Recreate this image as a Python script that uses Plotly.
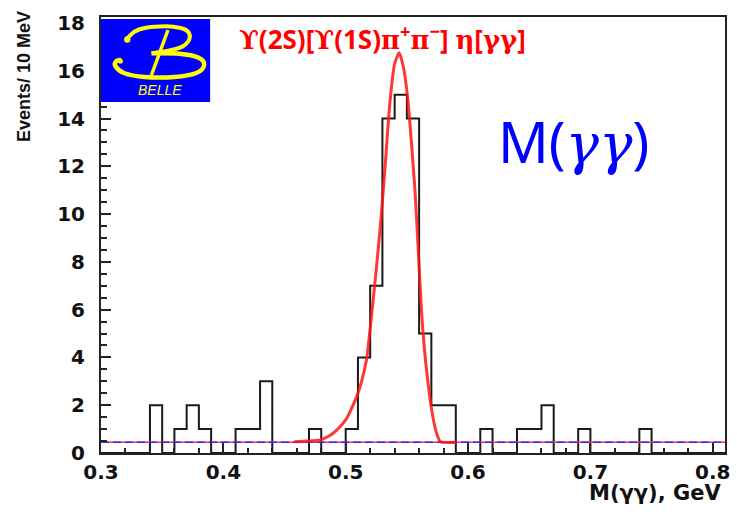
import plotly.graph_objects as go

# ---- histogram: M(gamma gamma), 10 MeV bins from 0.30 to 0.81 GeV ----
hist_start = 0.30
bin_width = 0.01
counts = [
    0, 0, 0, 0, 2, 0, 1, 2, 1, 0,      # 0.30 - 0.40
    0, 1, 1, 3, 0, 0, 0, 1, 0, 0,      # 0.40 - 0.50
    1, 4, 7, 14, 15, 14, 5, 2, 2, 0,   # 0.50 - 0.60
    0, 1, 0, 0, 1, 1, 2, 0, 0, 1,      # 0.60 - 0.70
    0, 0, 0, 0, 1, 0, 0, 0, 0, 0,      # 0.70 - 0.80
    0,                                 # 0.80 - 0.81
]

# ---- fit: signal peak on top of a flat background ----
bkg_level = 0.45
fit_x = [0.458, 0.470, 0.479, 0.486, 0.4927, 0.5008, 0.509, 0.513, 0.517,
         0.521, 0.525, 0.529, 0.5325, 0.536, 0.540, 0.5437, 0.547, 0.551,
         0.554, 0.5566, 0.559, 0.562, 0.566, 0.5713, 0.5745, 0.5775, 0.590]
fit_y = [0.47, 0.50, 0.55, 0.70, 0.96, 1.45, 2.36, 3.0, 3.9,
         5.7, 7.7, 9.9, 12.2, 14.6, 16.3, 16.75, 16.2, 14.7,
         12.8, 11.0, 8.8, 5.9, 3.5, 1.5, 0.8, 0.47, 0.45]

x_range = [0.30, 0.81]
y_range = [0.0, 18.25]
x_tick_labels = ["0.3", "0.4", "0.5", "0.6", "0.7", "0.8"]
y_tick_labels = ["0", "2", "4", "6", "8", "10", "12", "14", "16", "18"]


def greek(s):
    return f"<span style=\"font-family:'DejaVu Serif'\">{s}</span>"


title_text = (f"{greek('ϒ')}(2S)[{greek('ϒ')}(1S){greek('π')}<sup>+</sup>"
              f"{greek('π')}<sup>−</sup>] {greek('η')}[{greek('γγ')}]")
x_title = "M(γγ), GeV"
y_title = "Events/ 10 MeV"

# ---- page geometry (pixels) ----
W, H = 737, 514
PLOT_L, PLOT_R, PLOT_T, PLOT_B = 101, 730, 17, 453
PLOT_W = PLOT_R - PLOT_L
PLOT_H = PLOT_B - PLOT_T


def px_x(px):
    return (px - PLOT_L) / PLOT_W


def px_y(py):
    return (PLOT_B - py) / PLOT_H


def smooth_path(pts):
    """Catmull-Rom curve through pixel points, as an SVG path in paper units."""
    P = [(px_x(x), px_y(y)) for x, y in pts]
    d = f"M {P[0][0]:.5f},{P[0][1]:.5f}"
    for i in range(len(P) - 1):
        p0 = P[i - 1] if i > 0 else P[i]
        p1, p2 = P[i], P[i + 1]
        p3 = P[i + 2] if i + 2 < len(P) else P[i + 1]
        c1 = (p1[0] + (p2[0] - p0[0]) / 6, p1[1] + (p2[1] - p0[1]) / 6)
        c2 = (p2[0] - (p3[0] - p1[0]) / 6, p2[1] - (p3[1] - p1[1]) / 6)
        d += (f" C {c1[0]:.5f},{c1[1]:.5f} {c2[0]:.5f},{c2[1]:.5f}"
              f" {p2[0]:.5f},{p2[1]:.5f}")
    return d


# step outline of the histogram
edges = [round(hist_start + i * bin_width, 4) for i in range(len(counts) + 1)]
step_y = counts + [counts[-1]]

fig = go.Figure()

fig.add_trace(go.Scatter(
    x=edges, y=step_y, mode="lines", line_shape="hv",
    line=dict(color="#1a1a1a", width=2), showlegend=False, hoverinfo="skip",
))

# background level: red fit line under a blue dashed line
fig.add_trace(go.Scatter(
    x=x_range, y=[bkg_level, bkg_level], mode="lines",
    line=dict(color="#ff3030", width=1.6), showlegend=False, hoverinfo="skip",
))
fig.add_trace(go.Scatter(
    x=x_range, y=[bkg_level, bkg_level], mode="lines",
    line=dict(color="#2a2aff", width=1.6, dash="8px,4px"),
    showlegend=False, hoverinfo="skip",
))

# signal fit
fig.add_trace(go.Scatter(
    x=fit_x, y=fit_y, mode="lines", line_shape="spline",
    line=dict(color="rgba(255,20,20,0.85)", width=3, smoothing=0.5),
    showlegend=False, hoverinfo="skip",
))

# ---- BELLE logo ----
shapes = [
    dict(type="rect", xref="paper", yref="paper",
         x0=px_x(101), x1=px_x(211), y0=px_y(102), y1=px_y(19),
         fillcolor="#0000ff", line=dict(width=0), layer="above"),
]
yellow = "#ffff00"
upper_bowl = [(126.7, 39.3), (135, 31.5), (145, 28.0), (160, 26.5), (174, 26.7),
              (186.7, 30.0), (190.5, 37.5), (184, 46.0), (170, 50.5), (152, 53.3)]
lower_bowl = [(152, 53.3), (180, 53.8), (199, 57.5), (205, 65.0), (197, 73.0),
              (175, 77.0), (145, 77.0), (124, 73.0), (115.5, 66.0), (116.5, 61.0),
              (121.5, 60.0)]
stem = [(168.5, 30.0), (151.5, 76.0)]
for pts, w in ((upper_bowl, 4), (lower_bowl, 4.5), (stem, 3.5)):
    shapes.append(dict(type="path", xref="paper", yref="paper",
                       path=smooth_path(pts), line=dict(color=yellow, width=w),
                       layer="above"))
for cx, cy, r in ((127.5, 39.5, 3.2), (120.5, 61.0, 2.6)):
    shapes.append(dict(type="circle", xref="paper", yref="paper",
                       x0=px_x(cx - r), x1=px_x(cx + r),
                       y0=px_y(cy + r), y1=px_y(cy - r),
                       fillcolor=yellow, line=dict(width=0), layer="above"))

annotations = [
    dict(text="BELLE", xref="paper", yref="paper", x=px_x(160), y=px_y(90),
         showarrow=False, xanchor="center", yanchor="middle",
         font=dict(family="Liberation Sans", size=14, color=yellow, style="italic")),
    dict(text=title_text, xref="paper", yref="paper", x=px_x(385), y=px_y(38),
         showarrow=False, xanchor="center", yanchor="middle",
         font=dict(family="Noto Sans", size=26, color="#ff0000", weight="bold")),
    dict(text="M(<span style=\"font-family:'DejaVu Serif'\"><i>γγ</i></span>)",
         xref="paper", yref="paper", x=px_x(577), y=px_y(141),
         showarrow=False, xanchor="center", yanchor="middle",
         font=dict(family="Noto Sans", size=56, color="#0000ff")),
    dict(text=x_title, xref="paper", yref="paper", x=px_x(728), y=px_y(493),
         showarrow=False, xanchor="right", yanchor="middle",
         font=dict(family="DejaVu Sans", size=21, color="#111", weight="bold")),
    dict(text=y_title, xref="paper", yref="paper", x=px_x(23), y=px_y(9),
         showarrow=False, xanchor="center", yanchor="top", textangle=-90,
         font=dict(family="Liberation Sans", size=18, color="#111", weight="bold")),
]

tick_font = dict(family="DejaVu Sans", size=20, color="#111", weight="bold")

fig.update_layout(
    width=W, height=H,
    margin=dict(l=PLOT_L, r=W - PLOT_R, t=PLOT_T, b=H - PLOT_B),
    paper_bgcolor="white", plot_bgcolor="white",
    shapes=shapes, annotations=annotations,
    xaxis=dict(
        range=x_range, showgrid=False, zeroline=False,
        showline=True, linecolor="#222", linewidth=2, mirror=True,
        ticks="inside", ticklen=10, tickwidth=1.5, tickcolor="#222",
        tickvals=[float(t) for t in x_tick_labels], ticktext=x_tick_labels,
        minor=dict(dtick=0.02, tick0=0.3, ticks="inside", ticklen=5,
                   tickwidth=1.5, tickcolor="#222", showgrid=False),
        tickfont=tick_font,
    ),
    yaxis=dict(
        range=y_range, showgrid=False, zeroline=False,
        showline=True, linecolor="#222", linewidth=2, mirror=True,
        ticks="inside", ticklen=10, tickwidth=1.5, tickcolor="#222",
        tickvals=[int(t) for t in y_tick_labels], ticktext=y_tick_labels,
        minor=dict(dtick=0.5, tick0=0, ticks="inside", ticklen=6,
                   tickwidth=1.5, tickcolor="#222", showgrid=False),
        tickfont=tick_font, ticklabelstandoff=10,
    ),
)

fig.write_html("out.html")
